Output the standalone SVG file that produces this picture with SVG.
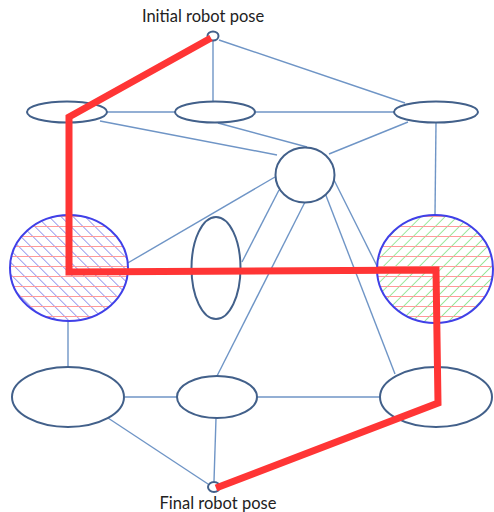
<svg xmlns="http://www.w3.org/2000/svg" width="494" height="512" viewBox="0 0 494 512">
  <style>
    .edge { stroke: #6f95c6; stroke-width: 1.4; fill: none; }
    .node { fill: #ffffff; stroke: #42608a; stroke-width: 2; }
    .hatch-outline { fill: none; stroke: #4040e8; stroke-width: 2; }
    .label { font-family: Lato, "Open Sans", "Liberation Sans", sans-serif; font-size: 16.5px; fill: #222222; text-anchor: middle; }
    .path { fill: none; stroke: #ff3535; stroke-width: 7; stroke-linejoin: miter; stroke-linecap: butt; }
  </style>
  <defs>
    <pattern id="redH" width="10" height="10" patternUnits="userSpaceOnUse">
      <line x1="0" y1="6.5" x2="10" y2="6.5" stroke="#ff9a9a" stroke-width="1"/>
    </pattern>
    <pattern id="blueD" width="8.5" height="8.5" patternUnits="userSpaceOnUse" patternTransform="rotate(-45)">
      <line x1="0" y1="0" x2="0" y2="8.5" stroke="#5050e0" stroke-width="1.1"/>
    </pattern>
    <pattern id="greenD" width="8.5" height="8.5" patternUnits="userSpaceOnUse" patternTransform="rotate(45)">
      <line x1="0" y1="0" x2="0" y2="8.5" stroke="#5cd85c" stroke-width="1.2"/>
    </pattern>
  </defs>
  <rect width="494" height="512" fill="#ffffff"/>

  <g id="connectors">
    <line class="edge" x1="213" y1="41" x2="213" y2="102"/>
    <line class="edge" x1="219" y1="40" x2="405" y2="103"/>
    <line class="edge" x1="107" y1="112" x2="176" y2="112"/>
    <line class="edge" x1="255" y1="112" x2="394" y2="112"/>
    <line class="edge" x1="100" y1="121" x2="277" y2="155"/>
    <line class="edge" x1="218" y1="123" x2="307" y2="147"/>
    <line class="edge" x1="408" y1="122" x2="329" y2="154"/>
    <line class="edge" x1="436" y1="123" x2="435" y2="215"/>
    <line class="edge" x1="275" y1="177" x2="126" y2="264"/>
    <line class="edge" x1="279" y1="190" x2="242" y2="262"/>
    <line class="edge" x1="305" y1="202" x2="217" y2="376"/>
    <line class="edge" x1="325" y1="193" x2="395" y2="374"/>
    <line class="edge" x1="334" y1="180" x2="378" y2="268"/>
    <line class="edge" x1="68" y1="321" x2="68" y2="367"/>
    <line class="edge" x1="125" y1="397" x2="177" y2="397"/>
    <line class="edge" x1="257" y1="397" x2="380" y2="397"/>
    <line class="edge" x1="108" y1="418" x2="208" y2="484"/>
    <line class="edge" x1="216" y1="418" x2="214" y2="481"/>
  </g>

  <g id="start">
    <ellipse class="node" cx="213" cy="36" rx="5.5" ry="4.5"/>
    <text class="label" x="203" y="22">Initial robot pose</text>
  </g>
  <g id="n-top-left"><ellipse class="node" cx="67" cy="112" rx="40" ry="10.5"/></g>
  <g id="n-top-mid"><ellipse class="node" cx="215" cy="112" rx="40" ry="10.5"/></g>
  <g id="n-top-right"><ellipse class="node" cx="436" cy="112" rx="42" ry="10.5"/></g>
  <g id="n-center"><ellipse class="node" cx="305" cy="175" rx="29.5" ry="27.5"/></g>
  <g id="n-left-hatched">
    <ellipse cx="69" cy="268" rx="59" ry="53" fill="#ffffff"/>
    <ellipse cx="69" cy="268" rx="59" ry="53" fill="url(#blueD)"/>
    <ellipse cx="69" cy="268" rx="59" ry="53" fill="url(#redH)"/>
    <ellipse class="hatch-outline" cx="69" cy="268" rx="59" ry="53"/>
  </g>
  <g id="n-mid-vertical"><ellipse class="node" cx="216" cy="268" rx="24.5" ry="51"/></g>
  <g id="n-right-hatched">
    <ellipse cx="435" cy="269" rx="58" ry="54" fill="#ffffff"/>
    <ellipse cx="435" cy="269" rx="58" ry="54" fill="url(#greenD)"/>
    <ellipse cx="435" cy="269" rx="58" ry="54" fill="url(#redH)"/>
    <ellipse class="hatch-outline" cx="435" cy="269" rx="58" ry="54"/>
  </g>
  <g id="n-bottom-left"><ellipse class="node" cx="68" cy="397" rx="56" ry="30"/></g>
  <g id="n-bottom-mid"><ellipse class="node" cx="217" cy="397" rx="40" ry="21"/></g>
  <g id="n-bottom-right"><ellipse class="node" cx="436" cy="397" rx="56" ry="30"/></g>
  <g id="goal">
    <ellipse class="node" cx="214" cy="487" rx="6" ry="5"/>
    <text class="label" x="218" y="509">Final robot pose</text>
  </g>

  <g id="robot-path">
    <polyline class="path" points="211,38 69,117 69,272 436,270 438,403 216,488"/>
  </g>
</svg>
